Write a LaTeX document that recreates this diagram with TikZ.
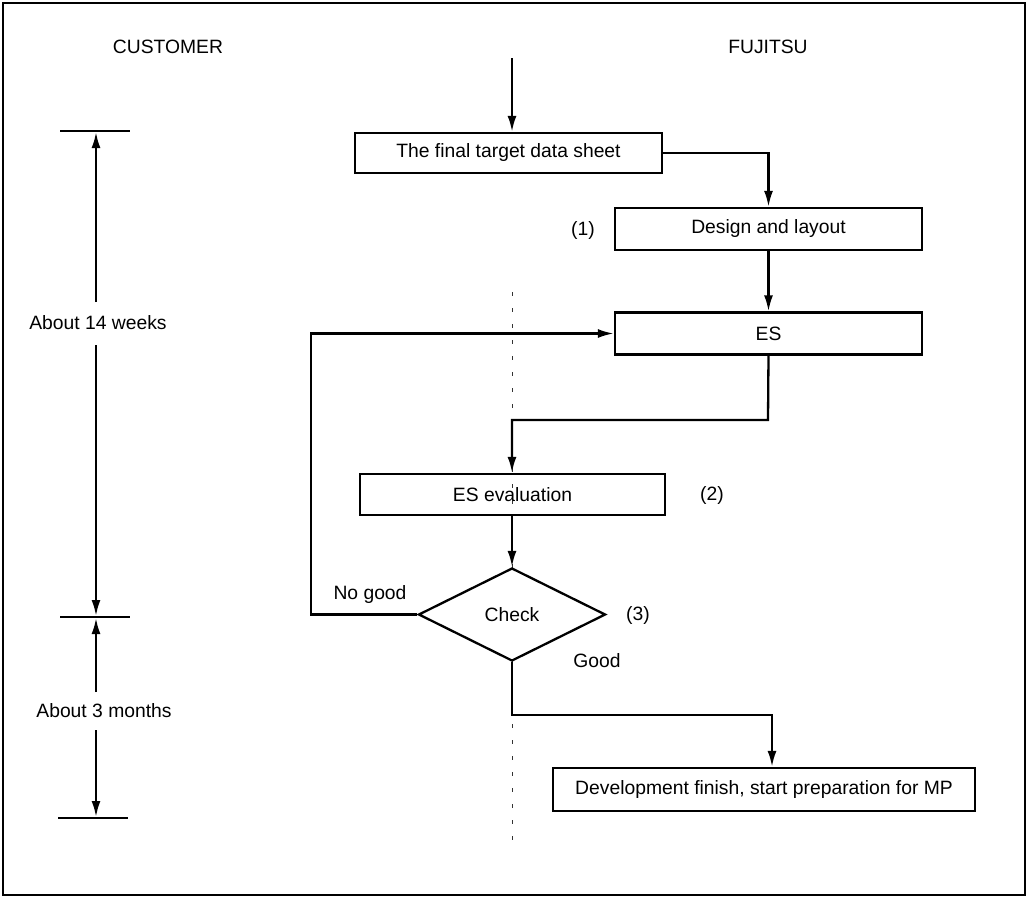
\documentclass[tikz,border=0pt]{standalone}
\usepackage{fontspec}
\setmainfont{Liberation Sans}
\usetikzlibrary{arrows.meta,shapes.geometric}
\begin{document}
\begin{tikzpicture}[x=1pt,y=-1pt,
  every node/.style={font=\fontsize{19.3}{22}\selectfont},
  line/.style={line width=2.3pt},
  arr/.style={line width=2.3pt,-{Latex[length=16pt,width=9pt]}},
  stepbox/.style={draw,line width=2.3pt,rectangle,inner sep=0pt},
  decision/.style={draw,line width=2.3pt,diamond,inner sep=0pt,minimum width=187pt,minimum height=93pt},
  lbl/.style={inner sep=1pt},
  sep/.style={line width=1pt,dash pattern=on 4pt off 12pt,black!80}]
\useasboundingbox (0,0) rectangle (1028,898);
% frame
\draw[line width=2.6pt] (3,3) rectangle (1025,895);

% column headers
\node[lbl] (cust) at (168,47) {CUSTOMER};
\node[lbl] (fuji) at (768,47) {FUJITSU};

% divider between customer and Fujitsu sides
\coordinate (sepTop) at (512,292);
\coordinate (sepBot) at (512,845);
\draw[sep] (sepTop) -- (sepBot);

% process boxes
\node[stepbox,minimum width=307pt,minimum height=40pt] (target) at (508.5,153) {\raisebox{-1.5pt}{The final target data sheet}};
\node[stepbox,minimum width=307pt,minimum height=42pt] (design) at (768.5,229) {\raisebox{-1.5pt}{Design and layout}};
\node[stepbox,minimum width=307pt,minimum height=42pt] (es) at (768.5,333.5) {ES};
\node[stepbox,minimum width=305pt,minimum height=41pt] (eval) at (512.5,494.5) {ES evaluation};
\node[decision,fill=white] (check) at (512,614.5) {Check};
\node[stepbox,minimum width=422pt,minimum height=43pt] (finish) at (764,789.5) {\raisebox{-1.5pt}{Development finish, start preparation for MP}};

% side labels
\node[lbl] (n1) at (583,230) {(1)};
\node[lbl] (n2) at (712,495) {(2)};
\node[lbl] (n3) at (638,615) {(3)};
\node[lbl] (nogood) at (370,594) {No good};
\node[lbl] (good) at (597,661) {Good};

% flow connectors
\coordinate (start) at (512,58);
\draw[arr] (start) -- (start |- target.north);
\draw[arr] (target.east) -| (design.north);
\draw[arr] (design.south) -- (es.north);
\coordinate (bendA) at (768,420);
\coordinate (bendB) at (512,420);
\draw[arr] (es.south) -- (bendA) -- (bendB) -- (eval.north -| bendB);
\draw[arr] (eval.south -| check.north) -- (check.north);
\coordinate (loopL) at (311,614.5);
\draw[arr] (check.west) -- (loopL) |- (es.west);
\coordinate (goodBend) at (512,715);
\draw[arr] (check.south) -- (goodBend) -| (finish.north -| 772,0);

% duration scale
\coordinate (t1a) at (60,131);  \coordinate (t1b) at (130,131);
\coordinate (t2a) at (60,617);  \coordinate (t2b) at (130,617);
\coordinate (t3a) at (58,818);  \coordinate (t3b) at (128,818);
\draw[line] (t1a) -- (t1b);
\draw[line] (t2a) -- (t2b);
\draw[line] (t3a) -- (t3b);
\node[lbl] (weeks) at (98,323) {About 14 weeks};
\node[lbl] (months) at (104,711) {About 3 months};
\coordinate (w1) at (96,302);
\coordinate (w2) at (96,345);
\coordinate (m1) at (96,692);
\coordinate (m2) at (96,730);
\draw[arr] (w1) -- (96,132);
\draw[arr] (w2) -- (96,616);
\draw[arr] (m1) -- (96,618);
\draw[arr] (m2) -- (96,817);
\end{tikzpicture}
\end{document}
